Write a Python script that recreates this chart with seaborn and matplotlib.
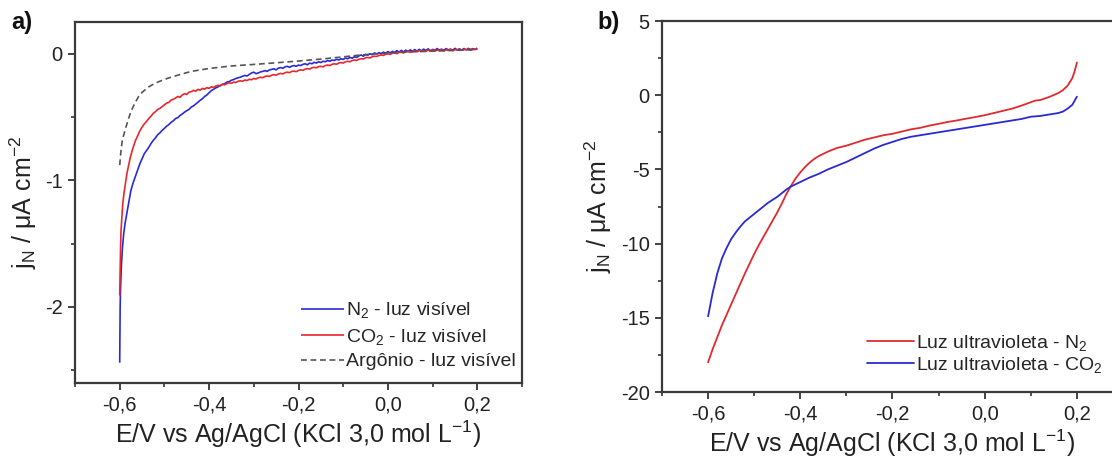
import numpy as np
import pandas as pd
import matplotlib
matplotlib.use("Agg")
import matplotlib.pyplot as plt
from matplotlib.ticker import MultipleLocator, FuncFormatter
import seaborn as sns

# ---------------- panel a) : visible light ----------------
# steep onset near the cathodic limit
n2_vis_onset_E = [-0.600, -0.5995, -0.599, -0.598, -0.596, -0.594, -0.591, -0.588,
                  -0.584, -0.580, -0.575, -0.570, -0.565, -0.560, -0.555]
n2_vis_onset_j = [-2.44, -2.20, -2.00, -1.84, -1.66, -1.54, -1.42, -1.34,
                  -1.26, -1.18, -1.08, -1.02, -0.97, -0.92, -0.87]
co2_vis_onset_E = [-0.600, -0.599, -0.598, -0.597, -0.595, -0.593, -0.590, -0.587,
                   -0.584, -0.580, -0.576, -0.572, -0.568, -0.564, -0.560, -0.555]
co2_vis_onset_j = [-1.91, -1.70, -1.52, -1.40, -1.28, -1.18, -1.09, -1.02,
                   -0.95, -0.88, -0.815, -0.765, -0.72, -0.68, -0.65, -0.61]

# sweep from -0.550 V to 0.200 V in 5 mV steps
sweep_start, sweep_end = -0.550, 0.200
n2_vis_j = [
    -0.83, -0.79, -0.765, -0.74, -0.71, -0.685, -0.665, -0.64, -0.625, -0.605,
    -0.59, -0.572, -0.56, -0.542, -0.53, -0.512, -0.505, -0.488, -0.476, -0.462,
    -0.45, -0.44, -0.422, -0.412, -0.398, -0.384, -0.368, -0.356, -0.338, -0.326,
    -0.308, -0.292, -0.281, -0.27, -0.262, -0.252, -0.242, -0.236, -0.224, -0.22,
    -0.21, -0.204, -0.196, -0.19, -0.186, -0.178, -0.172, -0.176, -0.164, -0.152,
    -0.146, -0.158, -0.152, -0.144, -0.14, -0.134, -0.14, -0.128, -0.124, -0.12,
    -0.128, -0.114, -0.11, -0.116, -0.104, -0.1, -0.108, -0.098, -0.094, -0.1,
    -0.09, -0.094, -0.084, -0.08, -0.088, -0.074, -0.08, -0.068, -0.074, -0.064,
    -0.07, -0.06, -0.064, -0.054, -0.06, -0.05, -0.054, -0.044, -0.05, -0.04,
    -0.046, -0.034, -0.04, -0.03, -0.036, -0.024, -0.03, -0.018, -0.01, -0.02,
    -0.006, -0.012, 0.0, -0.008, 0.006, -0.002, 0.008, 0.0, 0.012, 0.004,
    0.016, 0.006, 0.018, 0.008, 0.024, 0.012, 0.026, 0.014, 0.028, 0.016,
    0.03, 0.018, 0.032, 0.02, 0.034, 0.022, 0.036, 0.024, 0.038, 0.022,
    0.034, 0.026, 0.04, 0.028, 0.036, 0.024, 0.04, 0.03, 0.036, 0.026,
    0.042, 0.03, 0.038, 0.028, 0.04, 0.03, 0.042, 0.032, 0.04, 0.034, 0.044]
co2_vis_j = [
    -0.58, -0.555, -0.535, -0.512, -0.494, -0.472, -0.458, -0.44, -0.432, -0.418,
    -0.404, -0.39, -0.384, -0.366, -0.36, -0.35, -0.338, -0.344, -0.326, -0.316,
    -0.322, -0.304, -0.3, -0.29, -0.296, -0.282, -0.288, -0.274, -0.28, -0.268,
    -0.274, -0.262, -0.266, -0.256, -0.25, -0.254, -0.242, -0.246, -0.236, -0.23,
    -0.234, -0.224, -0.228, -0.218, -0.214, -0.218, -0.208, -0.212, -0.202, -0.206,
    -0.196, -0.2, -0.19, -0.186, -0.19, -0.18, -0.176, -0.18, -0.17, -0.166,
    -0.17, -0.16, -0.156, -0.16, -0.15, -0.146, -0.15, -0.14, -0.138, -0.142,
    -0.132, -0.128, -0.132, -0.122, -0.118, -0.122, -0.112, -0.108, -0.112, -0.102,
    -0.1, -0.104, -0.094, -0.09, -0.094, -0.084, -0.08, -0.084, -0.074, -0.07,
    -0.074, -0.064, -0.06, -0.064, -0.054, -0.05, -0.054, -0.044, -0.04, -0.042,
    -0.032, -0.03, -0.034, -0.024, -0.02, -0.022, -0.014, -0.01, -0.014, -0.004,
    -0.002, -0.006, 0.004, 0.006, 0.0, 0.01, 0.012, 0.006, 0.016, 0.018,
    0.01, 0.02, 0.022, 0.014, 0.024, 0.02, 0.026, 0.018, 0.028, 0.022,
    0.03, 0.02, 0.028, 0.024, 0.032, 0.022, 0.03, 0.026, 0.034, 0.024,
    0.032, 0.028, 0.034, 0.026, 0.034, 0.03, 0.036, 0.028, 0.036, 0.032, 0.038]

ar_vis_E = [-0.600, -0.597, -0.594, -0.590, -0.586, -0.580, -0.574, -0.566, -0.558,
            -0.550, -0.535, -0.520, -0.500, -0.480, -0.460, -0.440, -0.400, -0.350,
            -0.300, -0.250, -0.200, -0.150, -0.100, -0.060, 0.000, 0.050, 0.100,
            0.150, 0.200]
ar_vis_j = [-0.88, -0.76, -0.68, -0.63, -0.58, -0.51, -0.45, -0.39, -0.34,
            -0.305, -0.262, -0.232, -0.203, -0.18, -0.16, -0.14, -0.117, -0.097,
            -0.085, -0.072, -0.058, -0.043, -0.025, -0.01, 0.005, 0.014, 0.02,
            0.026, 0.032]

# ---------------- panel b) : ultraviolet light ----------------
n2_uv_E = [-0.600, -0.590, -0.580, -0.570, -0.560, -0.550, -0.540, -0.530, -0.520,
           -0.510, -0.500, -0.490, -0.480, -0.470, -0.460, -0.450, -0.440, -0.430,
           -0.420, -0.410, -0.400, -0.390, -0.380, -0.370, -0.360, -0.350, -0.340,
           -0.320, -0.300, -0.280, -0.260, -0.240, -0.220, -0.200, -0.180, -0.160,
           -0.140, -0.120, -0.100, -0.080, -0.060, -0.040, -0.020, 0.000, 0.020,
           0.040, 0.060, 0.080, 0.100, 0.110, 0.120, 0.140, 0.160, 0.170, 0.180,
           0.190, 0.195, 0.200]
n2_uv_j = [-18.0, -17.1, -16.3, -15.5, -14.8, -14.1, -13.4, -12.7, -12.0,
           -11.35, -10.7, -10.1, -9.55, -9.0, -8.45, -7.9, -7.3, -6.65,
           -6.1, -5.6, -5.2, -4.85, -4.55, -4.3, -4.1, -3.95, -3.8,
           -3.55, -3.4, -3.2, -3.0, -2.85, -2.7, -2.6, -2.45, -2.3,
           -2.2, -2.05, -1.93, -1.8, -1.7, -1.58, -1.47, -1.35, -1.2,
           -1.05, -0.9, -0.7, -0.47, -0.36, -0.33, -0.12, 0.15, 0.35, 0.65,
           1.15, 1.6, 2.2]

co2_uv_E = [-0.600, -0.595, -0.590, -0.580, -0.570, -0.560, -0.550, -0.540, -0.530,
            -0.520, -0.510, -0.500, -0.490, -0.480, -0.470, -0.460, -0.450, -0.440,
            -0.430, -0.420, -0.410, -0.400, -0.380, -0.360, -0.340, -0.320, -0.300,
            -0.280, -0.260, -0.240, -0.220, -0.200, -0.180, -0.160, -0.140, -0.120,
            -0.100, -0.080, -0.060, -0.040, -0.020, 0.000, 0.020, 0.040, 0.060,
            0.080, 0.100, 0.120, 0.140, 0.160, 0.170, 0.180, 0.190, 0.200]
co2_uv_j = [-14.9, -14.1, -13.3, -12.0, -11.0, -10.3, -9.7, -9.25, -8.85,
            -8.5, -8.25, -8.0, -7.75, -7.5, -7.25, -7.05, -6.85, -6.6,
            -6.35, -6.15, -6.0, -5.85, -5.55, -5.3, -5.0, -4.75, -4.5,
            -4.2, -3.9, -3.6, -3.35, -3.15, -2.95, -2.8, -2.7, -2.6,
            -2.5, -2.4, -2.3, -2.2, -2.1, -2.0, -1.9, -1.8, -1.7,
            -1.6, -1.45, -1.4, -1.3, -1.2, -1.1, -0.9, -0.65, -0.1]

labels_a = ["N$_2$ - luz visível", "CO$_2$ - luz visível", "Argônio - luz visível"]
labels_b = ["Luz ultravioleta - N$_2$", "Luz ultravioleta - CO$_2$"]
x_label = "E/V vs Ag/AgCl (KCl 3,0 mol L$^{-1}$)"
y_label = "j$_N$ / μA cm$^{-2}$"


def sweep(n):
    return list(np.linspace(sweep_start, sweep_end, n))


df_a = pd.concat([
    pd.DataFrame({"E": n2_vis_onset_E + sweep(len(n2_vis_j)),
                  "j": n2_vis_onset_j + n2_vis_j, "serie": labels_a[0]}),
    pd.DataFrame({"E": co2_vis_onset_E + sweep(len(co2_vis_j)),
                  "j": co2_vis_onset_j + co2_vis_j, "serie": labels_a[1]}),
    pd.DataFrame({"E": ar_vis_E, "j": ar_vis_j, "serie": labels_a[2]}),
], ignore_index=True)

df_b = pd.concat([
    pd.DataFrame({"E": n2_uv_E, "j": n2_uv_j, "serie": labels_b[0]}),
    pd.DataFrame({"E": co2_uv_E, "j": co2_uv_j, "serie": labels_b[1]}),
], ignore_index=True)

sns.set_theme(style="ticks")
plt.rcParams["font.family"] = ["Liberation Sans", "DejaVu Sans"]
plt.rcParams["mathtext.fontset"] = "custom"
plt.rcParams["mathtext.rm"] = "Liberation Sans"
plt.rcParams["mathtext.it"] = "Liberation Sans"
plt.rcParams["mathtext.default"] = "regular"

fig = plt.figure(figsize=(11.12, 4.57), dpi=100)
ax_a = fig.add_axes([75 / 1112, 1 - 383 / 457, 447 / 1112, 361 / 457])
ax_b = fig.add_axes([662 / 1112, 1 - 392 / 457, 461 / 1112, 371 / 457])

sns.lineplot(data=df_a, x="E", y="j", hue="serie", style="serie",
             palette=["#2a2ad8", "#e8282c", "#555555"],
             dashes=[(1, 0), (1, 0), (3.5, 2.2)],
             sort=False, estimator=None, linewidth=1.2, ax=ax_a)
sns.lineplot(data=df_b, x="E", y="j", hue="serie",
             palette=["#e02a2e", "#2a2ad0"],
             sort=False, estimator=None, linewidth=1.3, ax=ax_b)

comma = FuncFormatter(lambda v, p: f"{v:.1f}".replace(".", ",").replace("-0,0", "0,0"))

for ax in (ax_a, ax_b):
    ax.set_xlim(-0.7, 0.3)
    ax.xaxis.set_major_locator(MultipleLocator(0.2))
    ax.xaxis.set_minor_locator(MultipleLocator(0.1))
    ax.xaxis.set_major_formatter(comma)
    ax.tick_params(which="major", direction="out", length=5, width=1.3,
                   labelsize=14.5, colors="#333333", labelcolor="#222222", pad=4)
    ax.tick_params(which="minor", direction="out", length=3, width=1.2,
                   colors="#333333")
    ax.tick_params(top=False, right=False, which="both")
    for s in ax.spines.values():
        s.set_visible(True)
        s.set_linewidth(1.6)
        s.set_color("#3a3a3a")
    ax.set_xlabel(x_label, fontsize=18, color="#222222", labelpad=3)

ax_a.set_ylim(-2.6, 0.25)
ax_a.yaxis.set_major_locator(MultipleLocator(1))
ax_a.yaxis.set_minor_locator(MultipleLocator(0.5))
ax_a.yaxis.set_major_formatter(FuncFormatter(lambda v, p: f"{v:.0f}"))
ax_a.set_ylabel(y_label, fontsize=18, color="#222222", labelpad=4)

ax_b.set_ylim(-20, 5)
ax_b.yaxis.set_major_locator(MultipleLocator(5))
ax_b.yaxis.set_minor_locator(MultipleLocator(2.5))
ax_b.yaxis.set_major_formatter(FuncFormatter(lambda v, p: f"{v:.0f}"))
ax_b.set_ylabel(y_label, fontsize=18, color="#222222", labelpad=5)

leg_a = ax_a.legend(loc="lower right", bbox_to_anchor=(0.985, 0.035), frameon=False,
                    fontsize=14, handlelength=2.2, handletextpad=0.1,
                    labelspacing=0.32, borderaxespad=0.0, borderpad=0.0)
for h in leg_a.get_lines():
    h.set_linewidth(1.2)
leg_b = ax_b.legend(loc="lower right", bbox_to_anchor=(0.956, 0.045), frameon=False,
                    fontsize=14, handlelength=2.4, handletextpad=0.1,
                    labelspacing=0.12, borderaxespad=0.0, borderpad=0.0)

fig.text(11 / 1112, 1 - 23 / 457, "a)", fontsize=17, fontweight="bold",
         va="center", ha="left", color="#111111")
fig.text(597 / 1112, 1 - 22 / 457, "b)", fontsize=17, fontweight="bold",
         va="center", ha="left", color="#111111")

fig.savefig("out.png", dpi=100)
